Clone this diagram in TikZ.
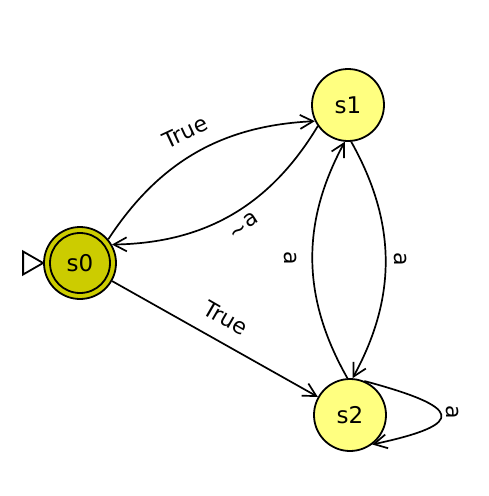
\documentclass[tikz,border=0pt]{standalone}
\usepackage{fontspec}
\setmainfont{DejaVu Sans}
\usetikzlibrary{arrows.meta}
\definecolor{accfill}{RGB}{204,204,0}
\definecolor{stfill}{RGB}{255,255,128}
\begin{document}
\begin{tikzpicture}[x=1pt,y=1pt,
  state/.style={circle,draw,line width=1.8pt,minimum size=72pt,inner sep=0pt,fill=stfill,font=\fontsize{23}{26}\selectfont},
  edge/.style={line width=1.7pt,-{Straight Barb[length=13pt,width=14pt,line width=1.7pt]}},
  lbl/.style={font=\fontsize{22}{25}\selectfont,inner sep=1pt}]
\useasboundingbox (0,0) rectangle (488,-496);
\node[state,fill=accfill] (s0) at (80,-263) {};
\node[circle,draw,line width=1.8pt,minimum size=60pt,inner sep=0pt,font=\fontsize{23}{26}\selectfont] (s0in) at (s0.center) {s0};
\node[state] (s1) at (348,-105) {s1};
\node[state] (s2) at (350,-415) {s2};
% start marker
\draw[line width=1.8pt,fill=white] (s0.west) -- ++(-20,11.5) -- ++(0,-23) -- cycle;
% edges
\draw[edge] (s0.40) to[bend left=27] (s1.206);
\draw[edge] (s1.215) to[bend left=29] (s0.30);
\draw[edge] (s2.94) to[bend left=29] (s1.265);
\draw[edge] (s1.-85) to[bend left=29] (s2.86);
\draw[edge] (s0) -- (s2);
\draw[edge] (s2.67) to[out=-15,in=12,looseness=4] (s2.-53);
% labels
\node[lbl,rotate=25] (l1) at (185,-132) {True};
\node[lbl,rotate=33] (l2) at (244,-226) {\raisebox{-0.15em}{\char`\~}a};
\node[lbl,rotate=-90] (l3) at (291,-258) {a};
\node[lbl,rotate=-90] (l4) at (401,-259) {a};
\node[lbl,rotate=-90] (l5) at (453,-412) {a};
\node[lbl,rotate=-30] (l6) at (226,-318) {True};
\end{tikzpicture}
\end{document}
